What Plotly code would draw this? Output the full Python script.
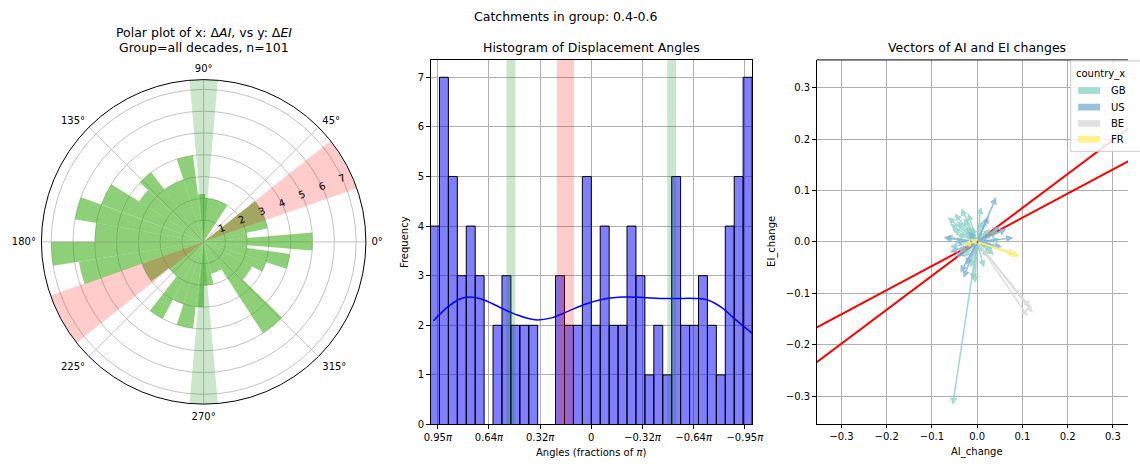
import numpy as np
import plotly.graph_objects as go

W, H = 1140, 469
FONT = "DejaVu Sans"

# ---------------- data ----------------
# Histogram counts, 36 bins of 10 deg, listed from +pi (left) to -pi (right)
hist_counts = [4, 7, 5, 3, 4, 3, 0, 2, 3, 2, 2, 2, 0, 0, 3, 2, 2, 5,
               2, 4, 2, 2, 4, 3, 1, 2, 1, 5, 2, 2, 3, 2, 1, 4, 5, 7]

# Smoothed density curve (scaled to counts)
kde_angle = [3.084, 2.827, 2.571, 2.379, 2.122, 1.802, 1.481, 1.097, 0.776,
             0.456, 0.135, -0.249, -0.634, -1.019, -1.339, -1.660, -2.044,
             -2.301, -2.557, -2.813, -3.153]
kde_value = [2.09, 2.35, 2.53, 2.57, 2.52, 2.37, 2.22, 2.11, 2.15, 2.28,
             2.42, 2.53, 2.57, 2.56, 2.54, 2.54, 2.54, 2.50, 2.35, 2.12, 1.83]

hist_ticks = [3, 2, 1, 0, -1, -2, -3]
hist_tick_text = ["0.95<i>π</i>", "0.64<i>π</i>", "0.32<i>π</i>", "0",
                  "−0.32<i>π</i>", "−0.64<i>π</i>", "−0.95<i>π</i>"]

# reference bands (degrees)
green_bands = [(85, 95), (265, 275)]
red_bands = [(19.3, 38.5), (199.3, 218.5)]

# Polar sectors: start angle, end angle (deg), radius (count)
polar_start = [-4.5, 5, 12, 19.3, 57, 88, 97, 108, 127, 137, 148, 160, 170,
               180, 189, 199.5, 217, 232, 242, 252, 263, 270, 283, 303, 316, 333, 342, 352]
polar_end = [5, 12, 19.3, 38.5, 88, 97, 108, 127, 137, 148, 160, 170, 180,
             189, 199.5, 217, 232, 242, 252, 263, 270, 283, 303, 316, 333, 342, 352, 355.5]
polar_r = [5, 2, 3, 3, 2, 2.2, 4, 3, 4, 3.5, 5, 6, 5,
           7, 5.8, 3, 2, 4, 3, 4, 3, 2, 1.5, 5, 2.5, 3, 4, 2]

# Vectors of AI / EI change by country
vec_gb_ai = [-0.054, 0.008, -0.035, -0.065, -0.045, -0.02, -0.055, -0.07, -0.06, 0.035,
             0.04, 0.02, -0.01, -0.005, 0.025, -0.03, 0.05, -0.04, 0.01, -0.025,
             0.03, 0.015, -0.015, 0.045, -0.05, -0.03, -0.012, 0.028, -0.045, 0.012,
             -0.02, 0.038, -0.06, 0.02]
vec_gb_ei = [-0.317, 0.068, 0.065, 0.048, 0.04, 0.055, 0.025, 0.01, -0.01, -0.015,
             -0.01, 0.02, -0.075, -0.08, -0.03, -0.03, 0.005, -0.02, 0.04, 0.03,
             0.025, -0.05, -0.05, 0.02, 0.055, 0.045, 0.03, 0.01, 0.015, -0.02,
             0.01, -0.025, 0.035, 0.045]
vec_us_ai = [0.042, 0.08, 0.065, -0.074, -0.037, -0.025, -0.045, 0.025, 0.05, -0.02,
             0.03, -0.06, -0.05, -0.03, 0.055]
vec_us_ei = [0.087, 0.008, 0.025, 0.008, -0.06, -0.045, -0.03, 0.05, 0.03, 0.02,
             -0.005, -0.02, 0.0, -0.07, -0.01]
vec_be_ai = [0.123, 0.112, 0.118]
vec_be_ei = [-0.138, -0.145, -0.128]
vec_fr_ai = [0.094, 0.085, -0.015, -0.03]
vec_fr_ei = [-0.028, -0.024, 0.005, -0.005]

countries = ["GB", "US", "BE", "FR"]
country_colors = ["rgba(141,211,199,0.8)", "rgba(128,177,211,0.8)",
                  "rgba(217,217,217,0.8)", "rgba(255,237,111,0.8)"]

# regression slopes (EI_change vs AI_change)
fit_slopes = [0.47, 0.66]

# ---------------- figure ----------------
fig = go.Figure()

# polar: bars
p_start = np.array(polar_start)
p_end = np.array(polar_end)
fig.add_trace(go.Barpolar(
    theta=(p_start + p_end) / 2, width=p_end - p_start, r=polar_r,
    marker=dict(color="rgba(50,170,10,0.55)", line=dict(width=0)),
    showlegend=False, subplot="polar"))
# polar: bands
for (a, b) in green_bands:
    fig.add_trace(go.Barpolar(theta=[(a + b) / 2], width=[b - a], r=[7.45],
                              marker=dict(color="rgba(0,128,0,0.2)", line=dict(width=0)),
                              showlegend=False, subplot="polar"))
for (a, b) in red_bands:
    fig.add_trace(go.Barpolar(theta=[(a + b) / 2], width=[b - a], r=[7.45],
                              marker=dict(color="rgba(255,0,0,0.2)", line=dict(width=0)),
                              showlegend=False, subplot="polar"))

# histogram
bw = 2 * np.pi / len(hist_counts)
centers = np.pi - bw * (np.arange(len(hist_counts)) + 0.5)
fig.add_trace(go.Bar(x=centers, y=hist_counts, width=bw,
                     marker=dict(color="rgba(0,0,255,0.5)", line=dict(color="black", width=1)),
                     showlegend=False, xaxis="x", yaxis="y"))
fig.add_trace(go.Scatter(x=kde_angle, y=kde_value, mode="lines",
                         line=dict(color="blue", width=1.5, shape="spline"),
                         showlegend=False, xaxis="x", yaxis="y"))

# vector plot: fit lines
for s in fit_slopes:
    xs = np.array([-0.4, 0.4])
    fig.add_trace(go.Scatter(x=xs, y=s * xs, mode="lines",
                             line=dict(color="red", width=2),
                             showlegend=False, xaxis="x2", yaxis="y2"))

shapes = []
annotations = []

# bands on histogram
for (a, b) in [(85, 95), (-95, -85)]:
    shapes.append(dict(type="rect", xref="x", yref="y domain",
                       x0=np.deg2rad(a), x1=np.deg2rad(b), y0=0, y1=1,
                       fillcolor="rgba(0,128,0,0.2)", line=dict(width=0), layer="above"))
shapes.append(dict(type="rect", xref="x", yref="y domain",
                   x0=np.deg2rad(red_bands[0][0]), x1=np.deg2rad(red_bands[0][1]), y0=0, y1=1,
                   fillcolor="rgba(255,0,0,0.2)", line=dict(width=0), layer="above"))

# arrows
vec_sets = [(vec_gb_ai, vec_gb_ei), (vec_us_ai, vec_us_ei),
            (vec_be_ai, vec_be_ei), (vec_fr_ai, vec_fr_ei)]
for (xs, ys), col in zip(vec_sets, country_colors):
    for x, y in zip(xs, ys):
        annotations.append(dict(x=x, y=y, ax=0, ay=0, xref="x2", yref="y2",
                                axref="x2", ayref="y2", text="", showarrow=True,
                                arrowhead=2, arrowsize=0.9, arrowwidth=1.6,
                                arrowcolor=col, standoff=0))

# top spine of vector plot
shapes.append(dict(type="line", xref="paper", yref="paper",
                   x0=823.3 / W, x1=1, y0=1 - 60.7 / H, y1=1 - 60.7 / H,
                   line=dict(color="black", width=1)))

# legend box (clipped at the right edge)
shapes.append(dict(type="rect", xref="paper", yref="paper",
                   x0=1081.7 / W, x1=1.02, y0=1 - 153.3 / H, y1=1 - 61.7 / H,
                   fillcolor="rgba(255,255,255,0.85)", line=dict(color="#cccccc", width=1),
                   layer="above"))
annotations.append(dict(x=1085 / W, y=1 - 75 / H, xref="paper", yref="paper",
                        text="country_x", showarrow=False, xanchor="left", yanchor="middle",
                        font=dict(size=10, color="black")))
sw_y = [91.7, 108.5, 125, 141]
for name, col, yy in zip(countries, country_colors, sw_y):
    shapes.append(dict(type="rect", xref="paper", yref="paper",
                       x0=1089.3 / W, x1=1111.7 / W, y0=1 - (yy + 3.4) / H, y1=1 - (yy - 3.4) / H,
                       fillcolor=col, line=dict(width=0), layer="above"))
    annotations.append(dict(x=1120.5 / W, y=1 - yy / H, xref="paper", yref="paper",
                            text=name, showarrow=False, xanchor="left", yanchor="middle",
                            font=dict(size=10, color="black")))

def label(text, x, y, size=10, angle=0):
    annotations.append(dict(x=x / W, y=1 - y / H, xref="paper", yref="paper",
                            text=text, showarrow=False, textangle=angle,
                            xanchor="center", yanchor="middle",
                            font=dict(size=size, color="black", family=FONT)))

label("Catchments in group: 0.4-0.6", 568, 17, 12.5)
label("Polar plot of x: Δ<i>AI</i>, vs y: Δ<i>EI</i>", 200, 33, 12.5)
label("Group=all decades, n=101", 200, 48.5, 12.5)
label("Histogram of Displacement Angles", 594, 48.5, 12.5)
label("Vectors of AI and EI changes", 986.7, 48.5, 12.5)
label("Angles (fractions of <i>π</i>)", 594, 458, 10)
label("Frequency", 405, 245, 10, -90)
label("AI_change", 986.7, 458, 10)
label("EI_change", 778, 245, 10, -90)

grid = "#b0b0b0"
axis_common = dict(showline=True, linecolor="black", linewidth=1, ticks="outside",
                   ticklen=3.5, tickcolor="black", tickfont=dict(size=10, color="black"),
                   showgrid=True, gridcolor=grid, gridwidth=0.8, zeroline=False)

fig.update_layout(
    width=W, height=H, margin=dict(l=0, r=0, t=0, b=0),
    paper_bgcolor="white", plot_bgcolor="white",
    font=dict(family=FONT, color="black"),
    showlegend=False,
    polar=dict(
        domain=dict(x=[35 / W, 365 / W], y=[59 / H, 389 / H]),
        bgcolor="white", bargap=0, barmode="overlay",
        radialaxis=dict(range=[0, 7.45], tickvals=[1, 2, 3, 4, 5, 6, 7], angle=22.5,
                        side="counterclockwise", tickangle=0, showline=False, ticks="",
                        gridcolor="#c4c4c4", tickfont=dict(size=10, color="black")),
        angularaxis=dict(tickvals=[0, 45, 90, 135, 180, 225, 270, 315],
                         ticktext=["0°", "45°", "90°", "135°", "180°", "225°", "270°", "315°"],
                         direction="counterclockwise", rotation=0, gridcolor="#c4c4c4",
                         showline=True, linecolor="black", linewidth=1,
                         ticks="outside", ticklen=3, tickcolor="rgba(0,0,0,0)",
                         tickfont=dict(size=10, color="black")),
    ),
    xaxis=dict(domain=[430.7 / W, 757.7 / W], anchor="y", range=[np.pi, -np.pi],
               tickvals=hist_ticks, ticktext=hist_tick_text, mirror=True, **axis_common),
    yaxis=dict(domain=[1 - 430 / H, 1 - 60.7 / H], anchor="x", range=[0, 7.35],
               tickvals=list(range(8)), mirror=True, **axis_common),
    xaxis2=dict(domain=[823.3 / W, 1.0], anchor="y2", range=[-0.355, 0.3335],
                tickvals=[-0.3, -0.2, -0.1, 0, 0.1, 0.2, 0.3],
                ticktext=["−0.3", "−0.2", "−0.1", "0.0", "0.1", "0.2", "0.3"], **axis_common),
    yaxis2=dict(domain=[1 - 429.3 / H, 1 - 60.7 / H], anchor="x2", range=[-0.354, 0.354],
                tickvals=[-0.3, -0.2, -0.1, 0, 0.1, 0.2, 0.3],
                ticktext=["−0.3", "−0.2", "−0.1", "0.0", "0.1", "0.2", "0.3"], **axis_common),
    shapes=shapes, annotations=annotations,
)

fig.write_html("out.html")
